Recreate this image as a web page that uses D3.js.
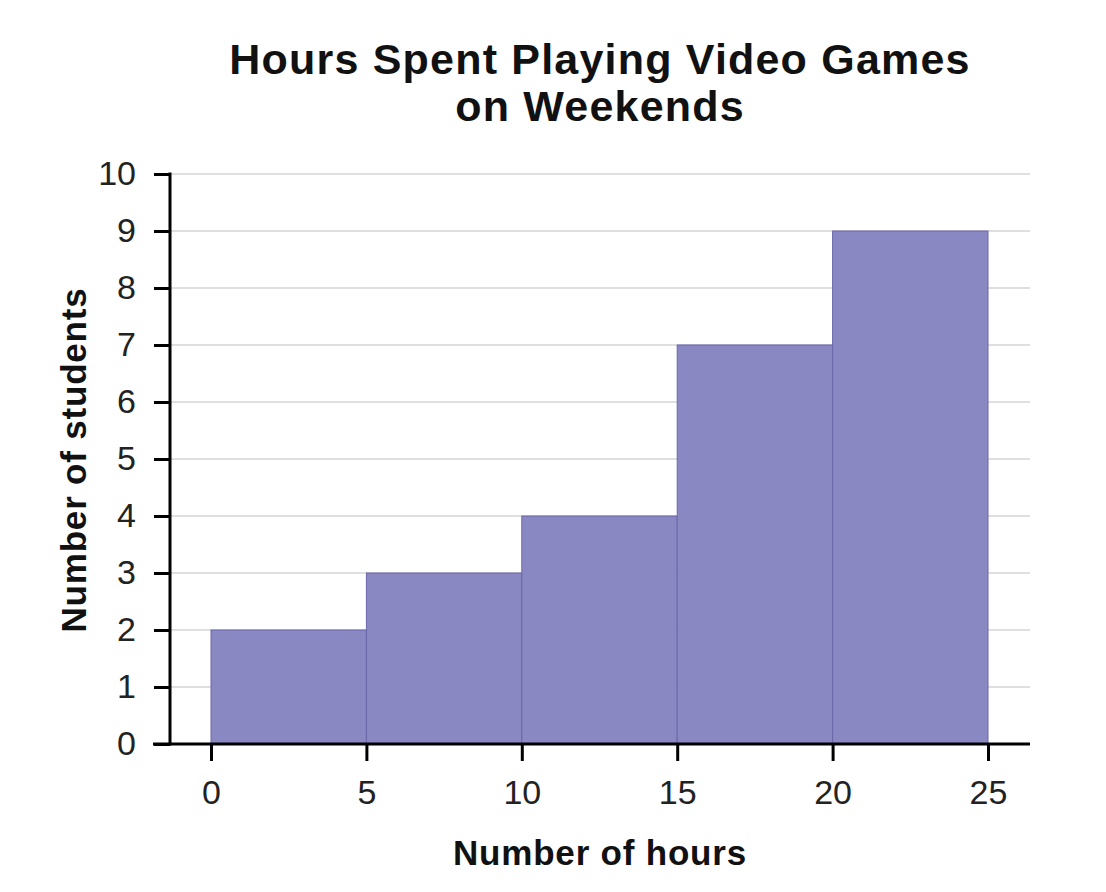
<!DOCTYPE html>
<html><head><meta charset="utf-8">
<script src="https://cdn.jsdelivr.net/npm/d3@7"></script>
<style>body{margin:0;background:#fff;}svg{display:block;font-family:"Liberation Sans",Arial,sans-serif;}</style>
</head><body><svg id="c" width="1106" height="892"></svg>
<script>
const binStarts = [0, 5, 10, 15, 20];
const binEnds = [5, 10, 15, 20, 25];
const counts = [2, 3, 4, 7, 9];
const xTicks = [0, 5, 10, 15, 20, 25];
const yTicks = [0, 1, 2, 3, 4, 5, 6, 7, 8, 9, 10];
const titleLines = ["Hours Spent Playing Video Games", "on Weekends"];

const svg = d3.select("#c");
const x = d3.scaleLinear().domain([0, 25]).range([211, 988]);
const y = d3.scaleLinear().domain([0, 10]).range([744, 174]);
const axisLeft = 170, axisRight = 1030;

// gridlines
svg.append("g").selectAll("line").data(yTicks.filter(d => d > 0)).join("line")
  .attr("x1", axisLeft).attr("x2", axisRight)
  .attr("y1", d => y(d)).attr("y2", d => y(d))
  .attr("stroke", "#d4d4d4").attr("stroke-width", 1.5);

// bars
const bins = binStarts.map((s, i) => ({x0: s, x1: binEnds[i], v: counts[i]}));
svg.append("g").selectAll("rect").data(bins).join("rect")
  .attr("x", d => x(d.x0)).attr("width", d => x(d.x1) - x(d.x0))
  .attr("y", d => y(d.v)).attr("height", d => y(0) - y(d.v))
  .attr("fill", "#8a88c2").attr("stroke", "#6a67aa").attr("stroke-width", 1);

// y axis
const ya = d3.axisLeft(y).tickValues(yTicks).tickSize(16).tickPadding(18).tickFormat(d3.format("d"));
const gy = svg.append("g").attr("transform", `translate(${axisLeft},0)`).call(ya);
gy.select(".domain").remove();
gy.selectAll(".tick line").attr("stroke", "#000").attr("stroke-width", 3);
gy.selectAll(".tick text").attr("font-size", 34).attr("fill", "#222").attr("font-family", "Liberation Sans, Arial, sans-serif");
svg.append("line").attr("x1", axisLeft).attr("x2", axisLeft).attr("y1", y(10) - 1.5).attr("y2", y(0) + 1.5)
  .attr("stroke", "#000").attr("stroke-width", 3);

// x axis
const xa = d3.axisBottom(x).tickValues(xTicks).tickSize(17).tickPadding(19).tickFormat(d3.format("d"));
const gx = svg.append("g").attr("transform", `translate(0,${y(0)})`).call(xa);
gx.select(".domain").remove();
gx.selectAll(".tick line").attr("stroke", "#000").attr("stroke-width", 3);
gx.selectAll(".tick text").attr("font-size", 34).attr("fill", "#222").attr("font-family", "Liberation Sans, Arial, sans-serif");
svg.append("line").attr("x1", 153).attr("x2", axisRight).attr("y1", y(0)).attr("y2", y(0))
  .attr("stroke", "#000").attr("stroke-width", 3);

// title
svg.append("g").selectAll("text").data(titleLines).join("text")
  .attr("x", 600).attr("y", (d, i) => 74 + i * 47)
  .attr("text-anchor", "middle").attr("font-weight", "bold").attr("font-size", 43)
  .attr("letter-spacing", 1.2).attr("fill", "#111")
  .text(d => d);

// axis labels
svg.append("text").attr("x", 600).attr("y", 865).attr("text-anchor", "middle")
  .attr("font-weight", "bold").attr("font-size", 35).attr("letter-spacing", 0.8).attr("fill", "#111").text("Number of hours");
svg.append("text").attr("transform", "translate(86,460) rotate(-90)").attr("text-anchor", "middle")
  .attr("font-weight", "bold").attr("font-size", 35).attr("letter-spacing", 0.8).attr("fill", "#111").text("Number of students");
</script></body></html>
